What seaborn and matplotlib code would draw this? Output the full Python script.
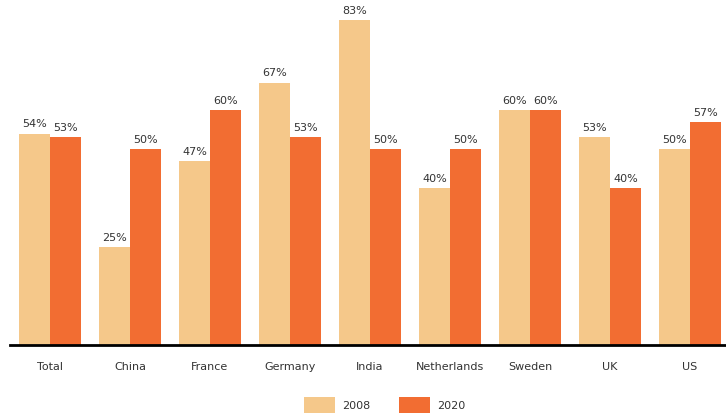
import matplotlib
matplotlib.use("Agg")
import matplotlib.pyplot as plt
import seaborn as sns
import pandas as pd
from matplotlib.patches import Patch

categories = ["Total", "China", "France", "Germany", "India", "Netherlands", "Sweden", "UK", "US"]
years = ["2008", "2020"]
values_2008 = [54, 25, 47, 67, 83, 40, 60, 53, 50]
values_2020 = [53, 50, 60, 53, 50, 50, 60, 40, 57]
colors = {"2008": "#F5C88A", "2020": "#F26D32"}

df = pd.DataFrame({
    "category": categories * 2,
    "year": ["2008"] * len(categories) + ["2020"] * len(categories),
    "value": values_2008 + values_2020,
})

sns.set_theme(style="white")
plt.rcParams["font.family"] = ["DejaVu Sans"]

fig = plt.figure(figsize=(7.26, 4.16), dpi=100)
ax = fig.add_axes([10 / 726, 71 / 416, 720 / 726, 345 / 416])

sns.barplot(data=df, x="category", y="value", hue="year", order=categories,
            hue_order=years, palette=colors, width=0.78, saturation=1,
            linewidth=0, edgecolor="none", ax=ax, legend=False)

for cont in ax.containers:
    ax.bar_label(cont, labels=[f"{int(v)}%" for v in cont.datavalues],
                 padding=3, fontsize=8, color="#333333")

ax.set_xlim(-0.5, 8.5)
ax.set_ylim(0, 88.1)
ax.set_xlabel("")
ax.set_ylabel("")
ax.set_yticks([])
for s in ["top", "right", "left"]:
    ax.spines[s].set_visible(False)
ax.spines["bottom"].set_color("black")
ax.spines["bottom"].set_linewidth(2)
ax.tick_params(axis="x", length=0, pad=12, labelsize=8, labelcolor="#333333")

handles = [Patch(facecolor=colors[y], edgecolor="none", label=y) for y in years]
fig.legend(handles=handles, loc="center", bbox_to_anchor=(384.5 / 726, 11 / 416),
           ncol=2, frameon=False, fontsize=8, handlelength=2.8, handleheight=1.9,
           columnspacing=2.6, handletextpad=0.63, labelcolor="#333333",
           borderpad=0)

fig.savefig("out.png", dpi=100)
